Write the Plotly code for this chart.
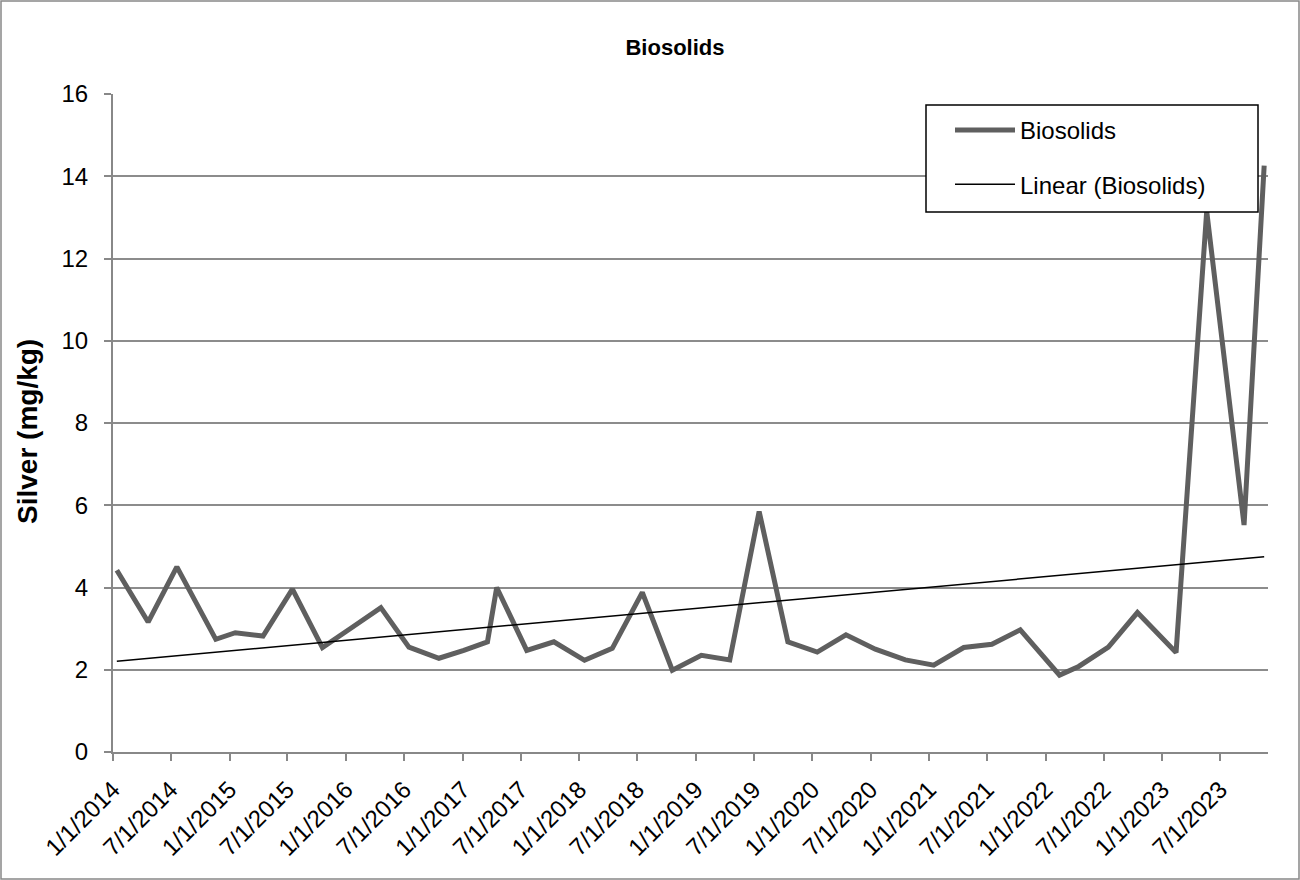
import numpy as np
import pandas as pd
import plotly.graph_objects as go

# Sample dates and silver concentrations (mg/kg)
sample_dates = [
    "2014-01-13", "2014-04-21", "2014-07-20", "2014-11-19",
    "2015-01-19", "2015-04-16", "2015-07-17", "2015-10-19",
    "2016-01-16", "2016-04-19", "2016-07-16", "2016-10-18",
    "2017-01-04", "2017-03-19", "2017-04-17", "2017-07-20", "2017-10-13",
    "2018-01-17", "2018-04-14", "2018-07-17", "2018-10-19",
    "2019-01-18", "2019-04-17", "2019-07-18", "2019-10-16",
    "2020-01-16", "2020-04-15", "2020-07-16", "2020-10-18",
    "2021-01-15", "2021-04-19", "2021-07-16", "2021-10-13",
    "2022-02-13", "2022-04-14", "2022-07-16", "2022-10-15",
    "2023-02-13", "2023-05-20", "2023-09-14", "2023-11-16",
]
silver = [
    4.42, 3.16, 4.50, 2.74,
    2.90, 2.82, 3.96, 2.54,
    3.01, 3.51, 2.55, 2.28,
    2.47, 2.68, 4.00, 2.47, 2.68,
    2.23, 2.52, 3.88, 1.99,
    2.35, 2.24, 5.85, 2.68,
    2.43, 2.85, 2.50, 2.24,
    2.11, 2.54, 2.62, 2.97,
    1.87, 2.08, 2.55, 3.39,
    2.42, 13.15, 5.52, 14.26,
]

# x-axis ticks every six months
tick_dates = [f"{y}-{m:02d}-01" for y in range(2014, 2024) for m in (1, 7)]
tick_labels = [f"{m}/1/{y}" for y in range(2014, 2024) for m in (1, 7)]

dates = pd.to_datetime(sample_dates)

# linear trendline (least squares on date)
days = (dates - dates[0]).days.values.astype(float)
slope, intercept = np.polyfit(days, silver, 1)
trend_x = [dates[0], dates[-1]]
trend_y = [intercept, intercept + slope * days[-1]]

fig = go.Figure()

fig.add_trace(go.Scatter(
    x=dates, y=silver,
    mode="lines",
    line=dict(color="#5f5f5f", width=5),
    name="Biosolids",
    legendgroup="a",
))

fig.add_trace(go.Scatter(
    x=trend_x, y=trend_y,
    mode="lines",
    line=dict(color="black", width=1.5),
    name="Linear (Biosolids)",
    legendgroup="b",
))

# plot area: x 113..1268, y 94..752
L, R, T, B = 113, 32, 94, 128
pw, ph = 1300 - L - R, 880 - T - B


def px_x(x):
    return (x - L) / pw


def px_y(y):
    return (880 - B - y) / ph


fig.update_layout(
    width=1300, height=880,
    margin=dict(l=L, r=R, t=T, b=B),
    paper_bgcolor="white",
    plot_bgcolor="white",
    font=dict(family="Liberation Sans, Arial", size=24, color="black"),
    title=dict(
        text="<b>Biosolids</b>",
        x=px_x(675), xref="paper", xanchor="center",
        y=1 - 47 / 880, yanchor="middle",
        font=dict(size=22),
    ),
    showlegend=True,
    legend=dict(
        x=px_x(950), xanchor="left",
        y=px_y(108), yanchor="top",
        bgcolor="rgba(0,0,0,0)",
        borderwidth=0,
        font=dict(size=24),
        tracegroupgap=20,
        itemwidth=60,
    ),
    xaxis=dict(
        type="date",
        range=["2014-01-01", "2023-11-28"],
        tickvals=tick_dates,
        ticktext=tick_labels,
        tickangle=-45,
        tickfont=dict(size=24),
        ticks="outside", ticklen=7, tickcolor="#888888", tickwidth=1.5,
        ticklabelstandoff=5,
        showgrid=False,
        showline=True, linecolor="#888888", linewidth=2,
        zeroline=False,
    ),
    yaxis=dict(
        range=[0, 16],
        dtick=2,
        tickfont=dict(size=24),
        ticks="outside", ticklen=7, tickcolor="#888888", tickwidth=1.5,
        ticklabelstandoff=11,
        showgrid=True, gridcolor="#8c8c8c", gridwidth=2,
        showline=True, linecolor="#888888", linewidth=2,
        zeroline=False,
    ),
    shapes=[
        # chart border
        dict(
            type="rect", xref="paper", yref="paper",
            x0=px_x(1), x1=px_x(1299), y0=px_y(879), y1=px_y(1),
            line=dict(color="#888888", width=1.5),
            fillcolor="rgba(0,0,0,0)",
            layer="below",
        ),
        # legend box
        dict(
            type="rect", xref="paper", yref="paper",
            x0=px_x(926), x1=px_x(1258), y0=px_y(212), y1=px_y(105),
            line=dict(color="black", width=1.5),
            fillcolor="white",
            layer="above",
        ),
    ],
    annotations=[dict(
        text="<b>Silver (mg/kg)</b>",
        xref="paper", yref="paper",
        x=px_x(28), y=px_y(432),
        xanchor="center", yanchor="middle",
        textangle=-90,
        showarrow=False,
        font=dict(size=28),
    )],
)

fig.write_html(
    "out.html",
    config={"displayModeBar": False},
    post_script="document.body.style.margin='0px';",
)
